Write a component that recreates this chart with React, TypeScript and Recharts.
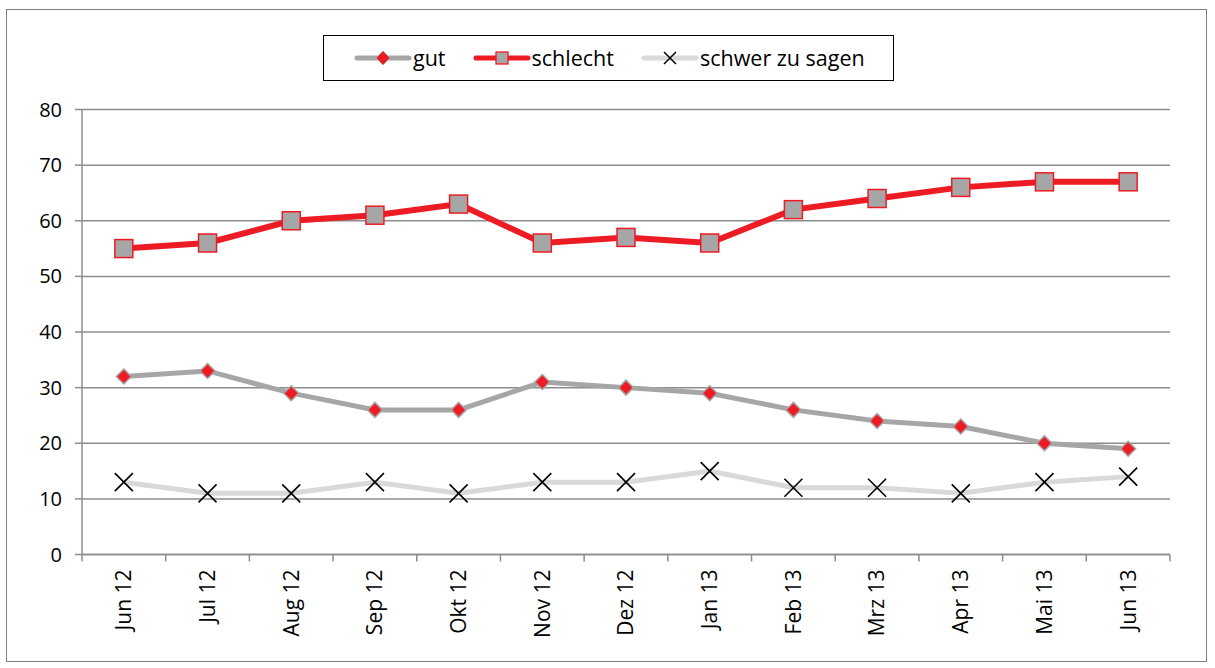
import { LineChart, Line, XAxis, YAxis, CartesianGrid } from "recharts";

const months = ["Jun 12", "Jul 12", "Aug 12", "Sep 12", "Okt 12", "Nov 12", "Dez 12", "Jan 13", "Feb 13", "Mrz 13", "Apr 13", "Mai 13", "Jun 13"];
const gut = [32, 33, 29, 26, 26, 31, 30, 29, 26, 24, 23, 20, 19];
const schlecht = [55, 56, 60, 61, 63, 56, 57, 56, 62, 64, 66, 67, 67];
const schwer = [13, 11, 11, 13, 11, 13, 13, 15, 12, 12, 11, 13, 14];
const yTicks = [0, 10, 20, 30, 40, 50, 60, 70, 80];

const RED = "#ed1c24";
const GRAY = "#a6a6a6";
const LIGHT = "#d9d9d9";
const AXIS = "#8c8c8c";
const FONT = "'Open Sans', sans-serif";

const W = 1215;
const H = 668;
const PLOT_LEFT = 82;
const PLOT_RIGHT = 1170;
const BAND = (PLOT_RIGHT - PLOT_LEFT) / months.length;

const data = months.map((m, i) => ({ month: m, gut: gut[i], schlecht: schlecht[i], schwer: schwer[i] }));

const Diamond = (p: any) => {
  const { cx, cy } = p;
  if (cx == null || cy == null) return <g key={p.key} />;
  const r = 7.5;
  return (
    <path key={p.key} d={`M${cx},${cy - r}L${cx + r},${cy}L${cx},${cy + r}L${cx - r},${cy}Z`} fill={RED} stroke={GRAY} strokeWidth={1.5} />
  );
};

const Square = (p: any) => {
  const { cx, cy } = p;
  if (cx == null || cy == null) return <g key={p.key} />;
  const s = 18;
  return <rect key={p.key} x={cx - s / 2} y={cy - s / 2} width={s} height={s} fill={GRAY} stroke={RED} strokeWidth={1.5} />;
};

const Cross = (p: any) => {
  const { cx, cy } = p;
  if (cx == null || cy == null) return <g key={p.key} />;
  const r = 9;
  return (
    <path key={p.key} d={`M${cx - r},${cy - r}L${cx + r},${cy + r}M${cx + r},${cy - r}L${cx - r},${cy + r}`} stroke="#000" strokeWidth={1.6} fill="none" />
  );
};

const XTick = (p: any) => {
  const { x, y, payload, index } = p;
  const last = index === months.length - 1;
  return (
    <g>
      <line x1={x - BAND / 2} y1={y} x2={x - BAND / 2} y2={y + 7} stroke={AXIS} strokeWidth={1.5} />
      {last && <line x1={x + BAND / 2} y1={y} x2={x + BAND / 2} y2={y + 7} stroke={AXIS} strokeWidth={1.5} />}
      <text
        transform={`translate(${x},${y + 15}) rotate(-90)`}
        textAnchor="end"
        dy="0.35em"
        fill="#000"
        fontSize={21}
        fontFamily={FONT}
      >
        {payload.value}
      </text>
    </g>
  );
};

const LegendIcon = ({ kind }: { kind: string }) => (
  <svg width={58} height={20} style={{ display: "block" }}>
    {kind === "gut" && (
      <>
        <line x1={3} y1={10} x2={55} y2={10} stroke={GRAY} strokeWidth={5} strokeLinecap="round" />
        <path d="M29,3L36,10L29,17L22,10Z" fill={RED} stroke={GRAY} strokeWidth={1} />
      </>
    )}
    {kind === "schlecht" && (
      <>
        <line x1={3} y1={10} x2={55} y2={10} stroke={RED} strokeWidth={5} strokeLinecap="round" />
        <rect x={23} y={4} width={12} height={12} fill={GRAY} stroke={RED} strokeWidth={1.3} />
      </>
    )}
    {kind === "schwer" && (
      <>
        <line x1={3} y1={10} x2={55} y2={10} stroke={LIGHT} strokeWidth={5} strokeLinecap="round" />
        <path d="M23,4L35,16M35,4L23,16" stroke="#000" strokeWidth={1.5} />
      </>
    )}
  </svg>
);

const legendItems = [
  { kind: "gut", label: "gut" },
  { kind: "schlecht", label: "schlecht" },
  { kind: "schwer", label: "schwer zu sagen" },
];

const LegendBox = () => (
  <div
    style={{
      position: "absolute",
      left: 323,
      top: 35,
      boxSizing: "border-box",
      width: 571,
      height: 46,
      paddingLeft: 30,
      border: "1.5px solid #000",
      background: "#fff",
      display: "flex",
      alignItems: "center",
      justifyContent: "flex-start",
      fontFamily: FONT,
      fontSize: 21.5,
      color: "#000",
    }}
  >
    {legendItems.map((it, i) => (
      <div key={it.kind} style={{ display: "flex", alignItems: "center", marginLeft: i === 0 ? 0 : 27 }}>
        <LegendIcon kind={it.kind} />
        <span style={{ marginLeft: 1, lineHeight: "24px" }}>{it.label}</span>
      </div>
    ))}
  </div>
);

export default function App() {
  return (
    <div style={{ position: "absolute", left: 0, top: 0, width: W, height: H, background: "#fff" }}>
      <div
        style={{
          position: "absolute",
          left: 6,
          top: 9,
          width: 1201,
          height: 653,
          border: "1.5px solid #7f7f7f",
          boxSizing: "border-box",
        }}
      />
      <div style={{ position: "absolute", left: 0, top: 0 }}>
        <LineChart width={W} height={H} data={data} margin={{ top: 109.5, right: W - PLOT_RIGHT, bottom: 23.5, left: 22 }}>
          <CartesianGrid vertical={false} stroke={AXIS} strokeWidth={1.5} />
          <XAxis
            dataKey="month"
            interval={0}
            height={90}
            padding={{ left: BAND / 2, right: BAND / 2 }}
            tickSize={0}
            tickMargin={0}
            tickLine={false}
            axisLine={{ stroke: AXIS, strokeWidth: 1.5 }}
            tick={<XTick />}
          />
          <YAxis
            domain={[0, 80]}
            ticks={yTicks}
            width={60}
            tickSize={7}
            tickMargin={13}
            tickLine={{ stroke: AXIS, strokeWidth: 1.5 }}
            axisLine={{ stroke: AXIS, strokeWidth: 1.5 }}
            tick={{ fill: "#000", fontSize: 20, fontFamily: FONT }}
          />
          <Line dataKey="schwer" name="schwer zu sagen" stroke={LIGHT} strokeWidth={5} dot={Cross} isAnimationActive={false} />
          <Line dataKey="gut" name="gut" stroke={GRAY} strokeWidth={5} dot={Diamond} isAnimationActive={false} />
          <Line dataKey="schlecht" name="schlecht" stroke={RED} strokeWidth={6} dot={Square} isAnimationActive={false} />
        </LineChart>
      </div>
      <LegendBox />
    </div>
  );
}
